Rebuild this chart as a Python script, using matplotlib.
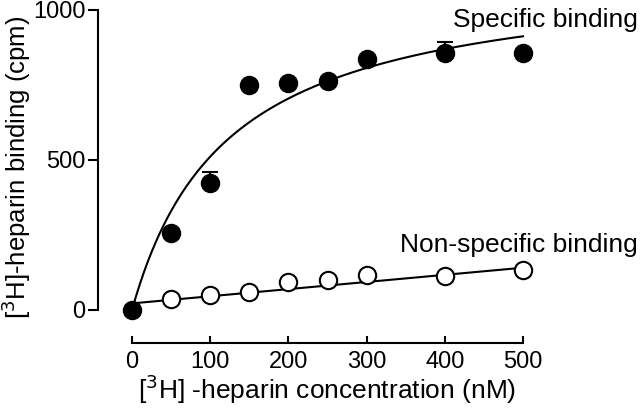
import numpy as np
import matplotlib
matplotlib.use("Agg")
import matplotlib.pyplot as plt

plt.rcParams['font.family'] = ['Liberation Sans', 'DejaVu Sans']

# Data
conc = [0, 50, 100, 150, 200, 250, 300, 400, 500]
specific = [0, 256, 424, 750, 758, 763, 836, 856, 858]
specific_err_up = [0, 0, 35, 0, 0, 0, 0, 38, 0]
nonspecific_x = [50, 100, 150, 200, 250, 300, 400, 500]
nonspecific = [36, 50, 59, 94, 100, 117, 113, 133]

# fitted curve parameters
bmax, kd = 1135, 122
ns_intercept, ns_slope = 22, 0.238

xticks = [0, 100, 200, 300, 400, 500]
yticks = [0, 500, 1000]

W, H = 640, 412
fig = plt.figure(figsize=(W / 100, H / 100), dpi=100)
ax = fig.add_axes([132 / W, (H - 310) / H, 391 / W, 300 / H])
ax.set_xlim(0, 500)
ax.set_ylim(0, 1000)

lw = 1.5
xc = np.linspace(0, 500, 300)
ax.plot(xc, bmax * xc / (kd + xc), color='black', lw=lw, clip_on=False, zorder=2)
xl = np.array([0, 510])
ax.plot(xl, ns_intercept + ns_slope * xl, color='black', lw=lw, clip_on=False, zorder=2)

ax.errorbar(conc, specific, yerr=[np.zeros(len(conc)), specific_err_up], fmt='none',
            ecolor='black', elinewidth=lw, capsize=6, capthick=lw, clip_on=False, zorder=3)
ax.plot(conc, specific, 'o', ms=13, color='black', clip_on=False, zorder=4)
ax.plot(nonspecific_x, nonspecific, 'o', ms=12.5, mfc='white', mec='black', mew=1.5,
        clip_on=False, zorder=4)

ax.text(410, 967, 'Specific binding', fontsize=19, va='center', ha='left', clip_on=False)
ax.text(343, 217, 'Non-specific binding', fontsize=19, va='center', ha='left', clip_on=False)

for s in ['top', 'right']:
    ax.spines[s].set_visible(False)
ax.spines['left'].set_position(('outward', 24.5))
ax.spines['bottom'].set_position(('outward', 23.8))
ax.spines['left'].set_linewidth(lw)
ax.spines['bottom'].set_linewidth(lw)

ax.set_xticks(xticks)
ax.set_yticks(yticks)
ax.tick_params(axis='y', direction='out', length=7, width=lw, labelsize=17, pad=2)
ax.tick_params(axis='x', direction='in', length=5, width=lw, labelsize=17, pad=6)

ax.set_xlabel('[$^{3}$H] -heparin concentration (nM)', fontsize=19, labelpad=-1)
ax.set_ylabel('[$^{3}$H]-heparin binding (cpm)', fontsize=18.5)
ax.yaxis.set_label_coords(-0.252, 0.475)

fig.savefig('out.png', dpi=100)
